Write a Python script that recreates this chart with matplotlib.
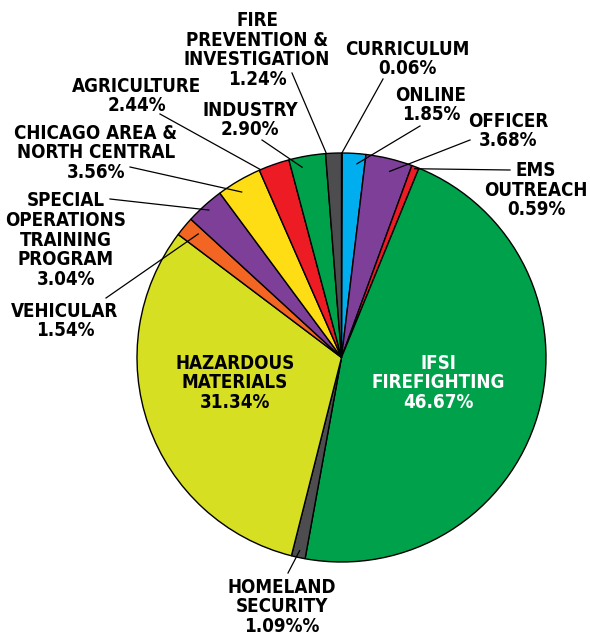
import numpy as np
import matplotlib
matplotlib.use('Agg')
from matplotlib import pyplot as plt

labels = ['CURRICULUM\n0.06%', 'ONLINE\n1.85%', 'OFFICER\n3.68%', 'EMS\nOUTREACH\n0.59%',
          'IFSI\nFIREFIGHTING\n46.67%', 'HOMELAND\nSECURITY\n1.09%%', 'HAZARDOUS\nMATERIALS\n31.34%',
          'VEHICULAR\n1.54%', 'SPECIAL\nOPERATIONS\nTRAINING\nPROGRAM\n3.04%',
          'CHICAGO AREA &\nNORTH CENTRAL\n3.56%', 'AGRICULTURE\n2.44%', 'INDUSTRY\n2.90%',
          'FIRE\nPREVENTION &\nINVESTIGATION\n1.24%']
values = [0.06, 1.85, 3.68, 0.59, 46.67, 1.09, 31.34, 1.54, 3.04, 3.56, 2.44, 2.90, 1.24]
colors = ['#ffffff', '#00aeef', '#7e3f98', '#ed1c24', '#00a14b', '#4d4d4f', '#d7df23',
          '#f26522', '#7e3f98', '#ffdd15', '#ed1c24', '#00a14b', '#4d4d4f']

# label centres in pixels (y from top)
text_pos = [(407, 59), (431, 105), (508, 131), (536, 190), (438, 383), (282, 607),
            (235, 383), (65, 321), (66, 240), (96, 153), (137, 96), (250, 120), (257, 50)]
# leader: (radius factor, angle nudge in degrees) for the end inside the wedge
leader = [(1.0, 0), (0.95, -1), (0.94, -1), (0.99, 0), None, (0.966, 0), None,
          (0.925, -1), (0.97, 0), (0.945, 1), (1.0, 4), (0.95, 2), (1.0, 2)]
leader_start = [(383, 79), (420, 126), (470, 140), (510, 170), None, (288, 573), None,
                (106, 298), (110, 199), (130, 167), (160, 114), (262, 140), (292, 73)]

W, H = 590, 637
cx, cy, R = 341.5, H - 357.5, 204.5

fig = plt.figure(figsize=(5.9, 6.37), dpi=100)
ax = fig.add_axes([0, 0, 1, 1])

wedges, _ = ax.pie(values, colors=colors, startangle=90, counterclock=False,
                   center=(cx, cy), radius=R,
                   wedgeprops=dict(edgecolor='black', linewidth=1.0))
ax.set_xlim(0, W)
ax.set_ylim(0, H)
ax.set_aspect('equal')
ax.axis('off')

font = dict(family='DejaVu Sans', fontstretch='condensed', fontweight='bold', fontsize=13.5)

for i, w in enumerate(wedges):
    tx, ty = text_pos[i]
    col = 'white' if i == 4 else 'black'
    ax.text(tx, H - ty, labels[i], ha='center', va='center', color=col,
            linespacing=1.04, **font)
    if leader[i] is None:
        continue
    rf, nudge = leader[i]
    ang = np.deg2rad((w.theta1 + w.theta2) / 2 + nudge)
    ex, ey = cx + rf * R * np.cos(ang), cy + rf * R * np.sin(ang)
    sx, sy = leader_start[i]
    ax.plot([sx, ex], [H - sy, ey], color='black', linewidth=0.9)

plt.savefig('out.png', dpi=100)
